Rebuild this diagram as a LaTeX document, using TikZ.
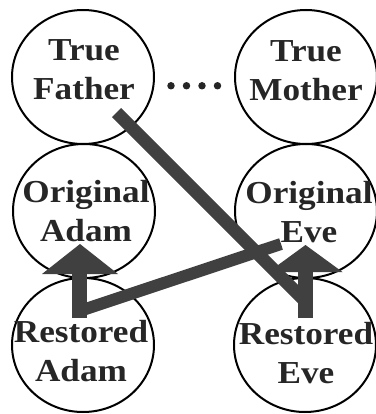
\documentclass[tikz,border=0pt]{standalone}
\usepackage{fontspec}
\setmainfont{Liberation Serif}[FakeStretch=1.1]
\usetikzlibrary{shapes.geometric}
\begin{document}
\begin{tikzpicture}[x=0.75pt,y=-0.75pt,
  person/.style={ellipse, draw=black, line width=1.5pt, minimum width=106.5pt, minimum height=100.5pt, inner sep=0pt},
  lbl/.style={align=center, font=\bfseries\fontsize{24}{29.5}\selectfont, inner sep=0pt, text=black!85},
  dotline/.style={line width=5.6pt, line cap=round, dash pattern=on 0pt off 11.625pt, shorten <=12.45pt, shorten >=12pt, draw=black!85},
  bar/.style={draw=black!75, line cap=butt},
  tipfill/.style={fill=black!75},
]
\useasboundingbox (0,0) rectangle (375,414);
% circles
\node[person] (tf) at (83,77) {};
\node[person] (tm) at (306,77) {};
\node[person] (oa) at (84,211) {};
\node[person] (oe) at (306,211) {};
\node[person] (ra) at (83,345) {};
\node[person] (re) at (305,345) {};
% labels
\node[lbl] (tft) at (84,70) {True\\Father};
\node[lbl] (tmt) at (306,71) {True\\Mother};
\node[lbl] (oat) at (86,211) {Original\\Adam};
\node[lbl] (oet) at (309,212) {Original\\Eve};
\node[lbl] (rat) at (81,351) {Restored\\Adam};
\node[lbl] (ret) at (306,353) {Restored\\Eve};
% dotted link
\draw[dotline] (tf.-7) -- (tm.187);
% connector coordinates
\coordinate (tfb) at (116.5,112.5);
\coordinate (rej) at (305.5,301.5);
\coordinate (res) at (305.5,318);
\coordinate (reh) at (305.5,272);
\coordinate (oeapex) at (305.5,245);
\coordinate (ras) at (79.5,318);
\coordinate (rah) at (79.5,274);
\coordinate (oaapex) at (80,244);
\coordinate (raj) at (79.5,311);
\coordinate (oeb) at (281,244);
% bars
\draw[bar, line width=9.75pt] (tfb) -- (rej);
\draw[bar, line width=11.25pt] (res) -- (reh);
\fill[tipfill] (oeapex) -- ++(-37,27) -- ++(74,0) -- cycle;
\draw[bar, line width=11.25pt] (ras) -- (rah);
\fill[tipfill] (oaapex) -- ++(-38,30) -- ++(76,0) -- cycle;
\draw[bar, line width=9pt] (raj) -- (oeb);
\end{tikzpicture}
\end{document}
